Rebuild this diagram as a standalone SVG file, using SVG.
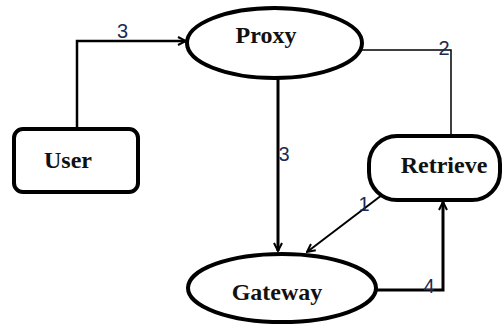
<svg xmlns="http://www.w3.org/2000/svg" width="504" height="329" viewBox="0 0 504 329">
  <style>
    .shape { fill: #fff; stroke: #000; stroke-width: 4; }
    .name { font-family: "Liberation Serif", serif; font-weight: bold; font-size: 24px; fill: #111; text-anchor: middle; }
    .num { font-family: "Liberation Sans", sans-serif; font-size: 20px; fill: #1a2a55; text-anchor: middle; }
    .wire { fill: none; stroke: #000; }
  </style>
  <defs>
    <marker id="vee" viewBox="0 0 10 10" refX="9" refY="5" markerWidth="10" markerHeight="10" markerUnits="userSpaceOnUse" orient="auto">
      <path d="M1,1 L9,5 L1,9" fill="none" stroke="#000" stroke-width="2"/>
    </marker>
  </defs>
  <rect width="504" height="329" fill="#fff"/>

  <g id="connectors">
    <path class="wire" stroke-width="2.5" d="M77,128 V41 H186" marker-end="url(#vee)"/>
    <path class="wire" stroke-width="1.5" d="M362,50 H451 V135"/>
    <path class="wire" stroke-width="3" d="M278,79 V251" marker-end="url(#vee)"/>
    <path class="wire" stroke-width="2" d="M382,195 L307,252" marker-end="url(#vee)"/>
    <path class="wire" stroke-width="3" d="M374,290 H443 V202" marker-end="url(#vee)"/>
    <text class="num" x="122.5" y="38">3</text>
    <text class="num" x="444" y="55">2</text>
    <text class="num" x="284" y="161">3</text>
    <text class="num" x="364" y="211">1</text>
    <text class="num" x="429" y="293">4</text>
  </g>

  <g id="proxy">
    <ellipse class="shape" cx="274.5" cy="43" rx="87.5" ry="35"/>
    <text class="name" x="266" y="43">Proxy</text>
  </g>

  <g id="user">
    <rect class="shape" x="14" y="129" width="124" height="63" rx="9"/>
    <text class="name" x="68" y="168">User</text>
  </g>

  <g id="retrieve">
    <rect class="shape" x="369" y="136" width="131" height="64" rx="28"/>
    <text class="name" x="444" y="173">Retrieve</text>
  </g>

  <g id="gateway">
    <ellipse class="shape" cx="282" cy="288" rx="94" ry="34"/>
    <text class="name" x="277" y="300">Gateway</text>
  </g>
</svg>
